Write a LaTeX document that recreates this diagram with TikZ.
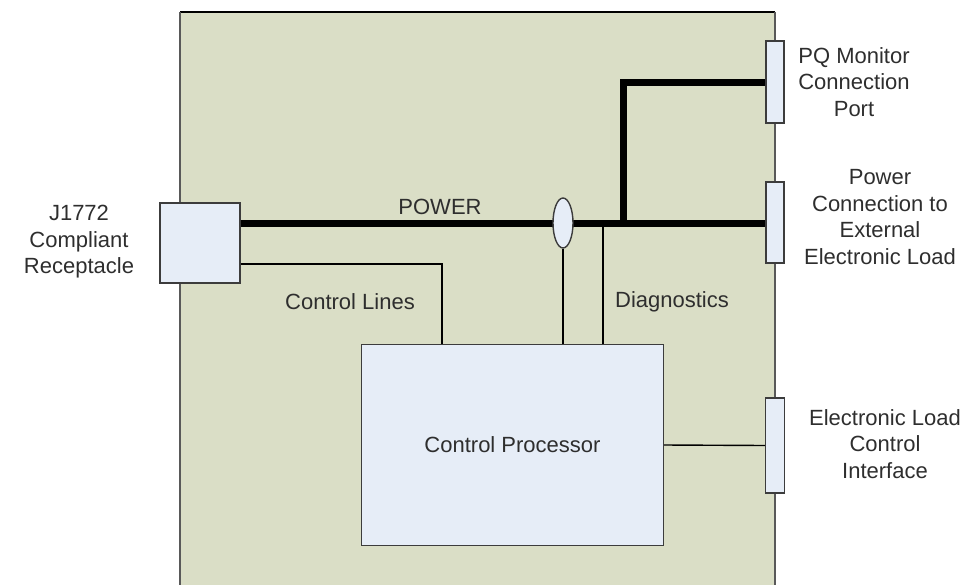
\documentclass[tikz,border=0pt]{standalone}
\usepackage{fontspec}
\setmainfont{Liberation Sans}
\usetikzlibrary{shapes.geometric}
\definecolor{boardfill}{HTML}{DADEC6}
\definecolor{boxfill}{HTML}{E6EDF7}
\definecolor{edge}{HTML}{3C3C3C}
\definecolor{txt}{HTML}{2E2E2E}
\pgfdeclarelayer{board}
\pgfdeclarelayer{wires}
\pgfsetlayers{board,wires,main}
\begin{document}
\begin{tikzpicture}[x=1pt,y=-1pt,
  boxstyle/.style={draw=edge,fill=boxfill,line width=1.6pt,inner sep=0pt,outer sep=0pt},
  lbl/.style={text=txt,font=\fontsize{22}{26.5}\selectfont,align=center,inner sep=0pt},
  thin/.style={draw=black,line width=1.4pt},
  thick/.style={draw=black,line width=7pt}]
\useasboundingbox (0,0) rectangle (964,584);
% nodes
\node[boxstyle,minimum width=80pt,minimum height=80pt] (jbox) at (200,243) {};
\node[boxstyle,minimum width=302pt,minimum height=201pt,lbl] (proc) at (512.5,445) {Control Processor};
\node[boxstyle,minimum width=18pt,minimum height=82pt] (pq) at (775,82) {};
\node[boxstyle,minimum width=18pt,minimum height=81pt] (pwr) at (775,222.5) {};
\node[boxstyle,minimum width=19pt,minimum height=95pt] (elci) at (775,445.5) {};
\node[draw=edge,fill=boxfill,line width=1.4pt,ellipse,minimum width=20pt,minimum height=50pt,inner sep=0pt] (ell) at (563,223) {};
% labels
\node[lbl] (jlbl) at (79,242) {J1772\\Compliant\\Receptacle};
\node[lbl] (powlbl) at (440,207) {POWER};
\node[lbl] (ctllbl) at (350,302) {Control Lines};
\node[lbl] (diaglbl) at (672,302) {Diagnostics};
\node[lbl] (pqlbl) at (854,82) {PQ Monitor\\Connection\\Port};
\node[lbl] (pwrlbl) at (880,217) {Power\\Connection to\\External\\Electronic Load};
\node[lbl] (elcilbl) at (885,444) {Electronic Load\\Control\\Interface};
% board
\begin{pgfonlayer}{board}
\begin{scope}
\clip (0,0) rectangle (964,584);
\fill[boardfill] (180,12) rectangle (775,600);
\draw[draw=black,line width=1.6pt] (180,12) -- (775,12);
\draw[draw=gray!70!black,line width=1.6pt] (180,12) -- (180,600);
\draw[draw=gray!70!black,line width=1.6pt] (775,12) -- (775,600);
\end{scope}
\end{pgfonlayer}
% connectors
\begin{pgfonlayer}{wires}
\coordinate (jpow) at (240,223);
\coordinate (jctl) at (240,264);
\coordinate (ctlc) at (442,264);
\coordinate (tap) at (623,223);
\coordinate (diag) at (603,223);
\draw[thick] (jpow) -- (jpow -| pwr.west);
\draw[thick,line join=miter] (tap) -- (tap |- pq.west) -- (pq.west);
\draw[thin] (jctl) -- (ctlc) -- (ctlc |- proc.north);
\draw[thin] (diag) -- (diag |- proc.north);
\draw[thin] (proc.east) -- (elci.west);
\draw[thin] (ell.south) -- (ell.south |- proc.north);
\end{pgfonlayer}
\end{tikzpicture}
\end{document}
